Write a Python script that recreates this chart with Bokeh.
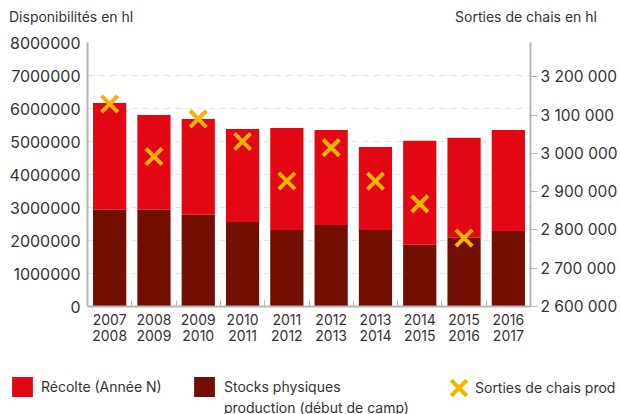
from bokeh.plotting import figure
from bokeh.layouts import column
from bokeh.models import (Range1d, LinearAxis, FixedTicker, Legend, LegendItem, Div,
                          ColumnDataSource, BasicTickFormatter)
from bokeh.embed import file_html
from bokeh.resources import INLINE

# ---- data ----
campaigns = ["2007\n2008", "2008\n2009", "2009\n2010", "2010\n2011", "2011\n2012",
             "2012\n2013", "2013\n2014", "2014\n2015", "2015\n2016", "2016\n2017"]
stocks = [2930000, 2930000, 2780000, 2560000, 2320000, 2470000, 2320000, 1870000, 2080000, 2290000]
recolte = [3240000, 2870000, 2900000, 2820000, 3090000, 2880000, 2510000, 3150000, 3030000, 3060000]
sorties = [3129000, 2992000, 3090000, 3031000, 2928000, 3015000, 2927000, 2868000, 2779000, float("nan")]
left_ticks = [0, 1000000, 2000000, 3000000, 4000000, 5000000, 6000000, 7000000, 8000000]
right_ticks = [2600000, 2700000, 2800000, 2900000, 3000000, 3100000, 3200000]
right_tick_labels = ["2 600 000", "2 700 000", "2 800 000", "2 900 000",
                     "3 000 000", "3 100 000", "3 200 000"]
left_title = "Disponibilités en hl"
right_title = "Sorties de chais en hl"
legend_recolte = "Récolte (Année N)"
legend_stocks = ["Stocks physiques", "production (début de camp)"]
legend_sorties = "Sorties de chais prod"

RED = "#E30613"
DARK = "#720F00"
ORANGE = "#F6B300"
TXT = "#333333"
AX = "#b5b5b5"
FONT = "Inter"

idx = list(range(len(campaigns)))
src = ColumnDataSource(dict(x=idx, stocks=stocks, recolte=recolte, sorties=sorties))

# ---------------- main chart ----------------
p = figure(width=620, height=322, output_backend="svg", toolbar_location=None,
           x_range=Range1d(-0.5, len(campaigns) - 0.5), y_range=Range1d(0, 8000000),
           min_border_left=87, min_border_right=89, min_border_top=12, min_border_bottom=46,
           y_axis_location=None, margin=(0, 0, 0, 0))
p.outline_line_color = None
p.extra_y_ranges = {"right": Range1d(2600000, 3289600)}

rs = p.vbar_stack(["stocks", "recolte"], x="x", width=0.75, color=[DARK, RED],
                  line_color=None, source=src)
p.scatter(x="x", y="sorties", marker="x", size=23, line_width=4, line_color=ORANGE,
          y_range_name="right", source=src)

la = LinearAxis(ticker=FixedTicker(ticks=left_ticks),
                formatter=BasicTickFormatter(use_scientific=False))
la.major_tick_line_color = None
la.major_tick_out = 0
la.major_tick_in = 0
la.minor_tick_line_color = None
la.axis_line_color = AX
la.axis_line_width = 2
la.major_label_text_font = FONT
la.major_label_text_font_size = "16px"
la.major_label_text_color = TXT
la.major_label_standoff = 7
p.add_layout(la, "left")

ra = LinearAxis(y_range_name="right", ticker=FixedTicker(ticks=right_ticks),
                major_label_overrides={t: l for t, l in zip(right_ticks, right_tick_labels)})
ra.major_tick_line_color = AX
ra.major_tick_in = 0
ra.major_tick_out = 7
ra.minor_tick_line_color = None
ra.axis_line_color = AX
ra.axis_line_width = 2
ra.major_label_text_font = FONT
ra.major_label_text_font_size = "15.5px"
ra.major_label_text_color = TXT
ra.major_label_standoff = 3
p.add_layout(ra, "right")

xa = p.xaxis[0]
xa.ticker = FixedTicker(ticks=idx, minor_ticks=[i + 0.5 for i in idx[:-1]])
xa.major_label_overrides = {i: c for i, c in zip(idx, campaigns)}
xa.major_tick_line_color = None
xa.major_tick_out = 0
xa.major_tick_in = 0
xa.minor_tick_line_color = AX
xa.minor_tick_in = 6
xa.minor_tick_out = 0
xa.axis_line_color = AX
xa.axis_line_width = 2
xa.major_label_text_font = FONT
xa.major_label_text_font_size = "14px"
xa.major_label_text_line_height = 0.96
xa.major_label_text_color = TXT
xa.major_label_standoff = 4

p.xgrid.grid_line_color = None
p.ygrid.ticker = FixedTicker(ticks=left_ticks)
p.ygrid.grid_line_color = "#e4e4e4"
p.ygrid.grid_line_dash = "6 5"

# ---------------- legend strip (same series, renderers hidden, only legend shown) ----------------
lg = figure(width=620, height=62, output_backend="svg", toolbar_location=None,
            x_range=Range1d(20, 21), y_range=Range1d(0, 8000000),
            x_axis_location=None, y_axis_location=None, margin=(0, 0, 0, 0),
            min_border_left=0, min_border_right=0, min_border_top=0, min_border_bottom=0)
if "frame_align" in lg.properties():
    lg.frame_align = False
lg.outline_line_color = None
lg.grid.grid_line_color = None
r_rec = lg.vbar(x="x", top="recolte", width=0, color=RED, line_color=None, source=src)
r_sto = lg.vbar(x="x", top="stocks", width=0, color=DARK, line_color=None, source=src)
r_sor = lg.scatter(x="x", y="sorties", marker="x", size=23, line_width=4, line_color=ORANGE,
                   source=src)
for r in (r_rec, r_sto, r_sor):
    r.visible = False


def add_legend(label, renderer, loc, gw, gh, standoff):
    leg = Legend(items=[LegendItem(label=label, renderers=[renderer])],
                 orientation="horizontal", location=loc)
    leg.click_policy = "none"
    leg.inactive_fill_alpha = 0
    leg.padding = 0
    leg.margin = 0
    leg.border_line_color = None
    leg.background_fill_alpha = 0
    leg.label_text_font = FONT
    leg.label_text_font_size = "14px"
    leg.label_text_color = TXT
    leg.glyph_width = gw
    leg.glyph_height = gh
    leg.label_standoff = standoff
    lg.add_layout(leg, "center")


# location = (left, bottom) in px from the strip's bottom-left corner
add_legend(legend_recolte, r_rec, (9, 15), 26, 25, 6)
add_legend(legend_stocks[0], r_sto, (191, 15), 26, 25, 7)
add_legend(legend_stocks[1], r_sto, (224, -5), 0, 24, 0)
add_legend(" ", r_sor, (431, -1), 55, 55, 0)
add_legend(legend_sorties, r_rec, (475, 15), 0, 24, 0)

titles = Div(text=(
    f'<div style="display:flex;justify-content:space-between;width:597px;'
    f'font-family:{FONT};font-size:14px;color:{TXT};line-height:18px;'
    f'padding:8px 0 0 9px;">'
    f'<span>{left_title}</span><span>{right_title}</span></div>'),
    width=620, height=30, margin=(0, 0, 0, 0))

layout = column(titles, p, lg, spacing=0)
open("out.html", "w").write(file_html(layout, INLINE))
